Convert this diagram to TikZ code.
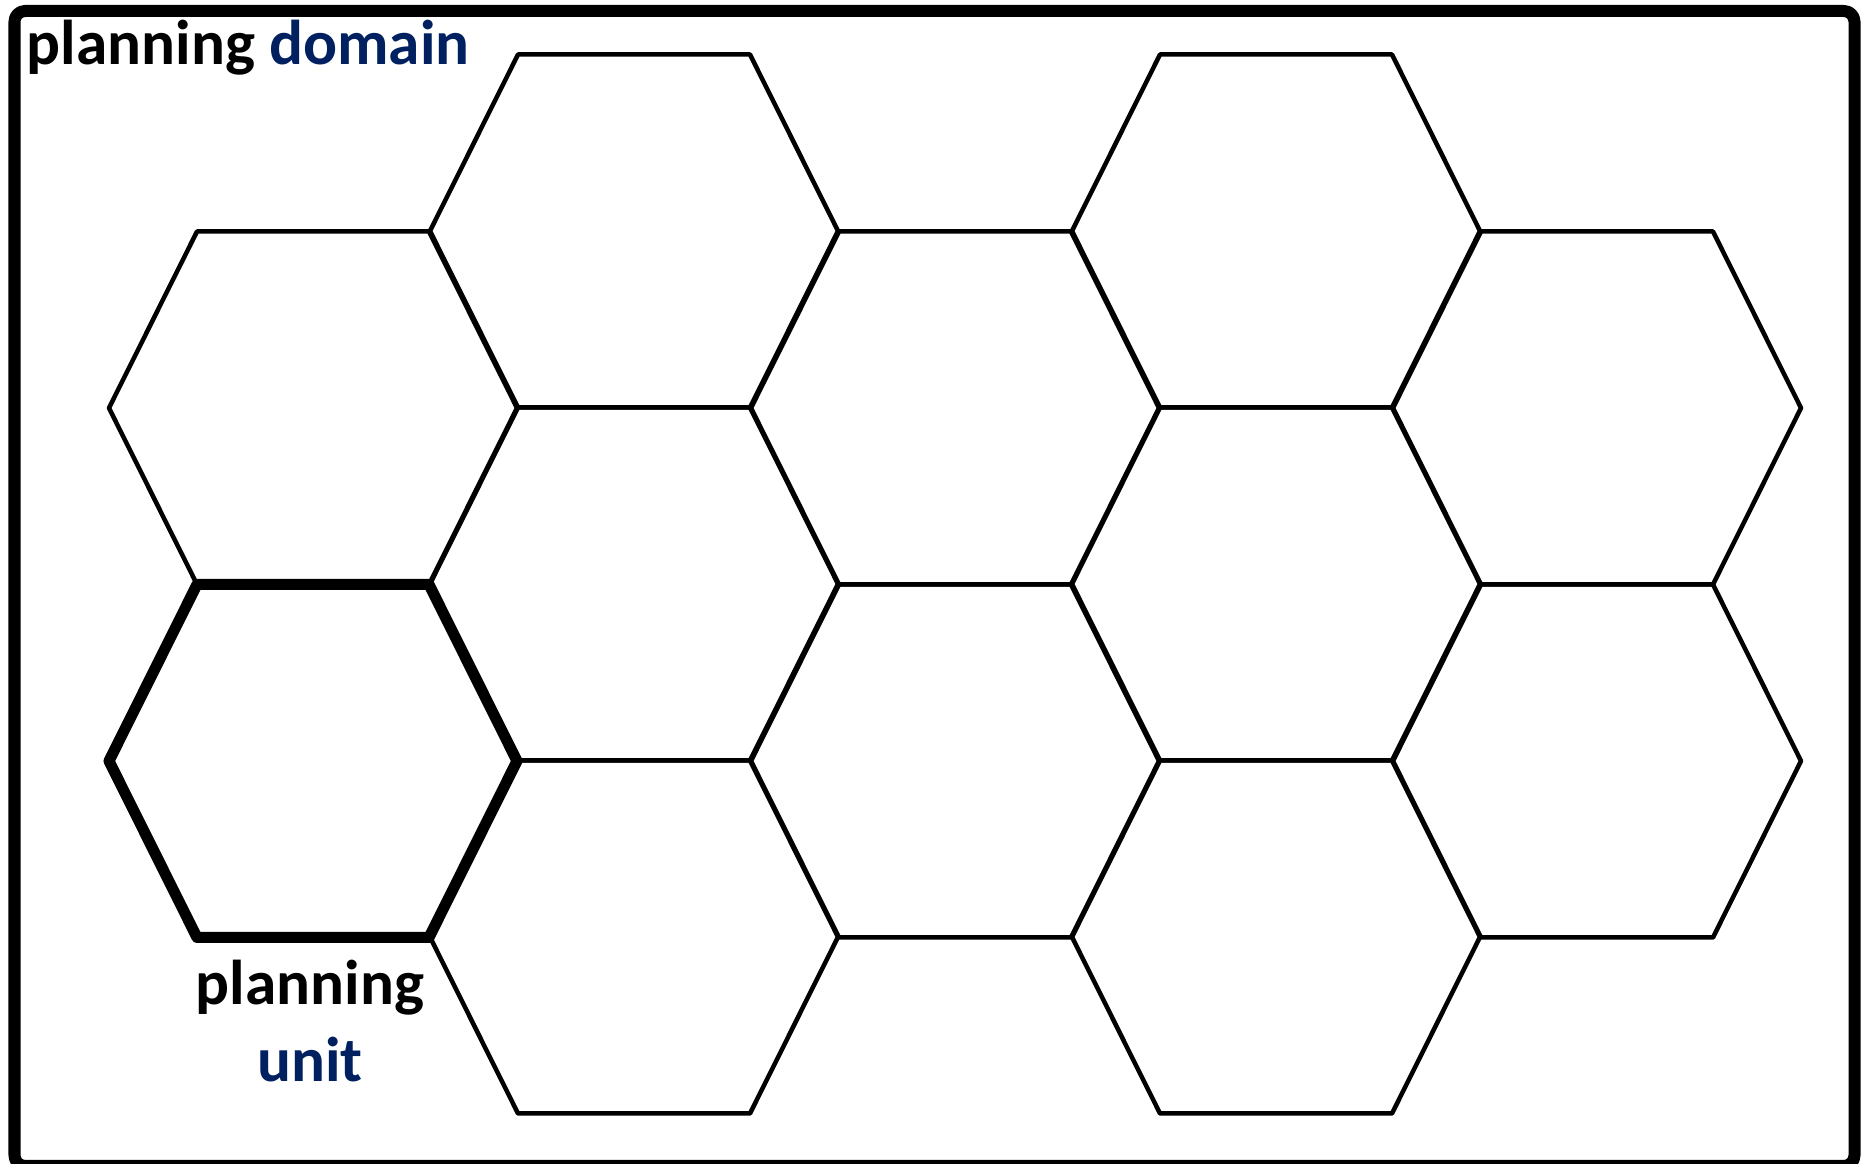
\documentclass[tikz,border=0pt]{standalone}
\usepackage{fontspec}
\setmainfont{Carlito}
\usetikzlibrary{positioning}
\definecolor{navy}{HTML}{002060}

\begin{document}
\begin{tikzpicture}[x=0.01cm, y=-0.01cm, line join=round,
    hexline/.style={line width=0.045cm},
    unitline/.style={line width=0.11cm},
    label/.style={font=\fontsize{18}{21}\selectfont\bfseries, inner sep=0pt}]
  \useasboundingbox (0,0) rectangle (1868,1164);

  % Domain frame
  \draw[line width=0.12cm, rounded corners=3pt] (14.5,11) rectangle (1854.5,1166);

  % Honeycomb of planning units
  \foreach \x/\y in {313/408, 634/231, 634/584, 634/937, 955/408, 955/761,
                     1276/231, 1276/584, 1276/937, 1597/408, 1597/761} {
    \draw[hexline] (\x-204,\y) -- (\x-116,\y-176.5) -- (\x+116,\y-176.5)
      -- (\x+204,\y) -- (\x+116,\y+176.5) -- (\x-116,\y+176.5) -- cycle;
  }

  % Highlighted unit
  \draw[unitline] (109,761) -- (197,584.5) -- (429,584.5)
    -- (517,761) -- (429,937.5) -- (197,937.5) -- cycle;

  % Labels
  \node[label, anchor=base west] (domain) at (26,65)
    {planning \textcolor{navy}{domain}};
  \node[label, anchor=base] (unitA) at (310,1005) {planning};
  \node[label, anchor=base, navy] (unitB) at (310,1082) {unit};
\end{tikzpicture}
\end{document}
